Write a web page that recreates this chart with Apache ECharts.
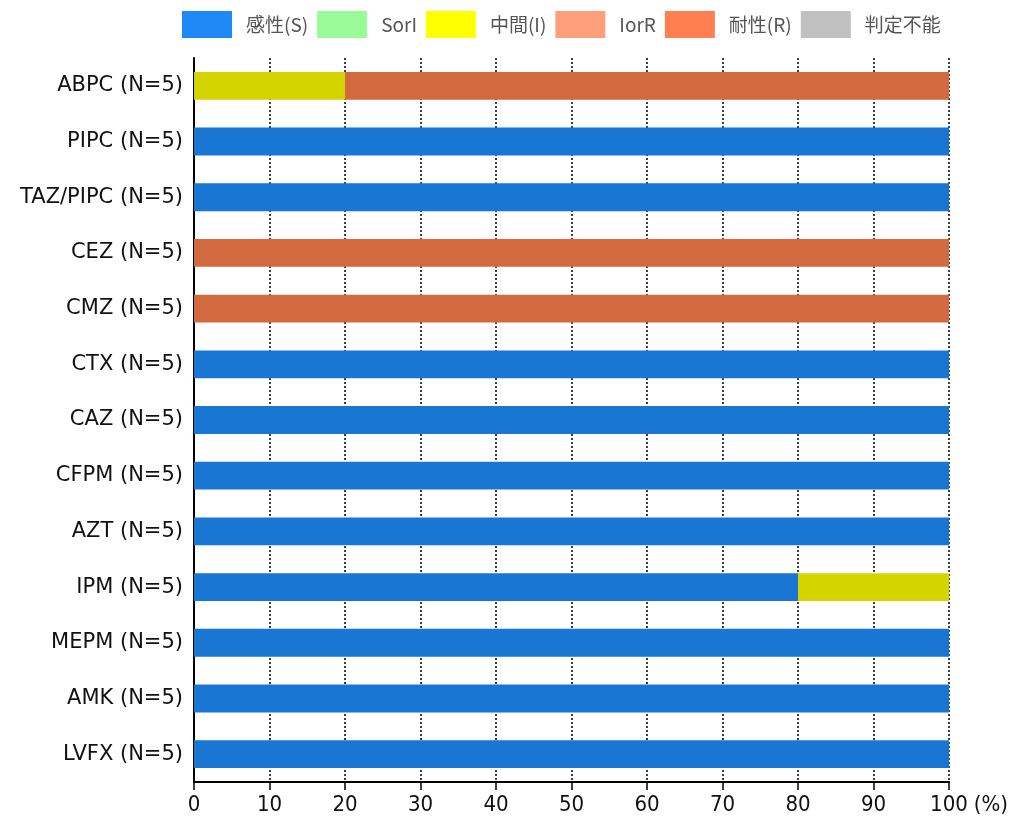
<!DOCTYPE html>
<html>
<head>
<meta charset="utf-8">
<script src="https://cdn.jsdelivr.net/npm/echarts@6/dist/echarts.min.js"></script>
<style>html,body{margin:0;padding:0;background:#fff}#c{width:1020px;height:819px}</style>
</head>
<body>
<div id="c"></div>
<script>
const categories = ['ABPC (N=5)','PIPC (N=5)','TAZ/PIPC (N=5)','CEZ (N=5)','CMZ (N=5)','CTX (N=5)','CAZ (N=5)','CFPM (N=5)','AZT (N=5)','IPM (N=5)','MEPM (N=5)','AMK (N=5)','LVFX (N=5)'];
const seriesNames = ['感性(S)','SorI','中間(I)','IorR','耐性(R)','判定不能'];
const valS    = [0,100,100,0,0,100,100,100,100,80,100,100,100];
const valSorI = [0,0,0,0,0,0,0,0,0,0,0,0,0];
const valI    = [20,0,0,0,0,0,0,0,0,20,0,0,0];
const valIorR = [0,0,0,0,0,0,0,0,0,0,0,0,0];
const valR    = [80,0,0,100,100,0,0,0,0,0,0,0,0];
const valND   = [0,0,0,0,0,0,0,0,0,0,0,0,0];
const xTicks  = [0,10,20,30,40,50,60,70,80,90,100];

const barColors = ['#1976D2','#90EE90','#D4D400','#F4A07E','#D2693F','#BDBDBD'];
const legendColors = ['#1E88F5','#98FB98','#FFFF00','#FFA07A','#FF7F50','#C0C0C0'];
const allVals = [valS,valSorI,valI,valIorR,valR,valND];

const chart = echarts.init(document.getElementById('c'));
chart.setOption({
  animation:false,
  legend:{
    left:182, top:11, padding:0,
    itemWidth:50, itemHeight:27, itemGap:9,
    icon:'rect',
    textStyle:{fontFamily:'Noto Sans CJK JP', fontSize:19, color:'#555', padding:[0,0,0,9]},
    data: seriesNames.map((n,i)=>({name:n, itemStyle:{color:legendColors[i]}}))
  },
  grid:{left:194, right:71, top:58, bottom:37, containLabel:false},
  xAxis:{
    type:'value', min:0, max:100, interval:10,
    name:'(%)', nameLocation:'end', nameGap:24,
    nameTextStyle:{fontFamily:'Liberation Sans Narrow, DejaVu Sans Condensed, sans-serif', fontSize:22, color:'#111', align:'left', verticalAlign:'top', padding:[12,0,0,0]},
    axisLine:{show:true, lineStyle:{color:'#000', width:2}},
    axisTick:{show:true, length:8, lineStyle:{color:'#000', width:1.5}},
    axisLabel:{margin:12, fontFamily:'Liberation Sans Narrow, DejaVu Sans Condensed, sans-serif', fontSize:22, color:'#111',
      formatter:(v)=> xTicks.includes(v) ? String(v) : ''},
    splitLine:{show:true, lineStyle:{color:'#000', width:1.5, type:[2,2]}}
  },
  yAxis:{
    type:'category', data:categories, inverse:true,
    axisLine:{show:true, lineStyle:{color:'#000', width:2}},
    axisTick:{show:false},
    axisLabel:{margin:11, fontFamily:'DejaVu Sans', fontSize:21, color:'#111'},
    splitLine:{show:false}
  },
  series: seriesNames.map((n,i)=>({
    name:n, type:'bar', stack:'all', barWidth:'50%',
    itemStyle:{color:barColors[i]},
    data: allVals[i]
  }))
});
</script>
</body>
</html>
